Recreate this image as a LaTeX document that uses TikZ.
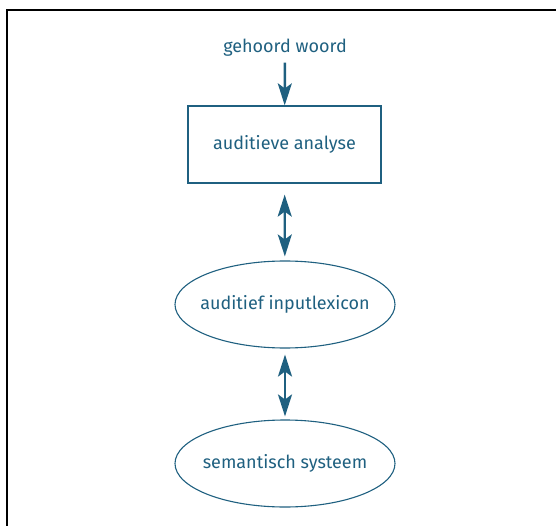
\documentclass[tikz,border=0pt]{standalone}
\usepackage{fontspec}
\setmainfont{Fira Sans}
\usepackage{tikz}
\usetikzlibrary{arrows.meta}
\usetikzlibrary{shapes.geometric}
\definecolor{darkteal}{RGB}{31,96,128}

\begin{document}
\begin{tikzpicture}[x=1pt,y=-1pt,font=\fontsize{18}{21}\selectfont]
		\useasboundingbox (0,0) rectangle (556,526);
		\draw[line width=1.5pt] (7,540) -- (7,10) -- (570,10);
		\node[darkteal] (woord) at (285,47.5) {gehoord woord};
		\node[draw=darkteal,line width=1.2pt,text=darkteal,minimum width=193,minimum height=77] (analyse) at (284.5,144.5) {auditieve analyse};
		\node[ellipse,draw=darkteal,line width=1.1pt,text=darkteal,inner sep=0pt,minimum width=220,minimum height=87] (lexicon) at (285,304.5) {\makebox[0pt]{auditief inputlexicon}};
		\node[ellipse,draw=darkteal,line width=1.1pt,text=darkteal,inner sep=0pt,minimum width=220,minimum height=87] (semantiek) at (285,463.5) {\makebox[0pt]{semantisch systeem}};
		\draw[darkteal,line width=2.4pt,-{Stealth[length=22pt,width=14pt,inset=5pt]},shorten <=3pt] (woord) -- (analyse);
		\draw[darkteal,line width=2.4pt,{Stealth[length=22pt,width=14pt,inset=5pt]}-{Stealth[length=22pt,width=14pt,inset=5pt]},shorten <=11pt,shorten >=4pt] (analyse) -- (lexicon);
		\draw[darkteal,line width=2.4pt,{Stealth[length=22pt,width=14pt,inset=5pt]}-{Stealth[length=22pt,width=14pt,inset=5pt]},shorten <=6pt,shorten >=3pt] (lexicon) -- (semantiek);
\end{tikzpicture}
\end{document}
